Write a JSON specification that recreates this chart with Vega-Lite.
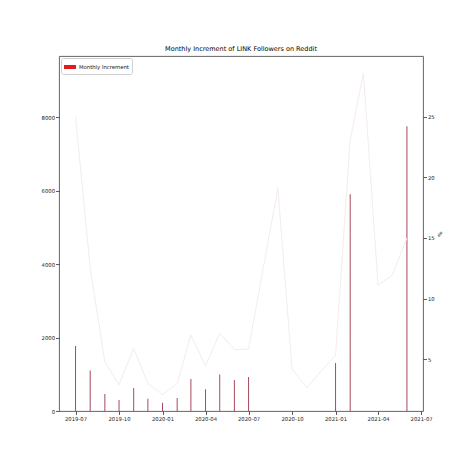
{
  "$schema": "https://vega.github.io/schema/vega-lite/v6.json",
  "width": 364,
  "height": 355,
  "autosize": {"type": "none"},
  "padding": {"left": 59, "top": 56, "right": 47, "bottom": 59},
  "background": "white",
  "config": {
    "font": "DejaVu Sans",
    "view": {"stroke": "#555", "strokeWidth": 0.9},
    "axis": {
      "grid": false,
      "domain": false,
      "tickColor": "#333",
      "tickSize": 3.5,
      "tickWidth": 0.8,
      "labelFontSize": 5.3,
      "labelColor": "#222",
      "labelFont": "DejaVu Sans"
    }
  },
  "title": {
    "text": "Monthly Increment of LINK Followers on Reddit",
    "fontSize": 6.5,
    "fontWeight": "normal",
    "font": "DejaVu Sans",
    "color": "#000",
    "offset": 4
  },
  "data": {
    "values": [
      {"date": "2019-07-01", "inc": 1770, "pct": 25.0},
      {"date": "2019-08-01", "inc": 1100, "pct": 12.5},
      {"date": "2019-09-01", "inc": 460, "pct": 4.8},
      {"date": "2019-10-01", "inc": 300, "pct": 2.9},
      {"date": "2019-11-01", "inc": 625, "pct": 5.9},
      {"date": "2019-12-01", "inc": 335, "pct": 3.0},
      {"date": "2020-01-01", "inc": 225, "pct": 2.1},
      {"date": "2020-02-01", "inc": 355, "pct": 3.0},
      {"date": "2020-03-01", "inc": 870, "pct": 7.0},
      {"date": "2020-04-01", "inc": 590, "pct": 4.45},
      {"date": "2020-05-01", "inc": 990, "pct": 7.15},
      {"date": "2020-06-01", "inc": 845, "pct": 5.8},
      {"date": "2020-07-01", "inc": 925, "pct": 5.85},
      {"date": "2020-08-01", "inc": null, "pct": 12.5},
      {"date": "2020-09-01", "inc": null, "pct": 19.1},
      {"date": "2020-10-01", "inc": null, "pct": 4.2},
      {"date": "2020-11-01", "inc": null, "pct": 2.65},
      {"date": "2020-12-01", "inc": null, "pct": 4.0},
      {"date": "2021-01-01", "inc": 1305, "pct": 5.35},
      {"date": "2021-02-01", "inc": 5900, "pct": 23.1},
      {"date": "2021-03-01", "inc": null, "pct": 28.6},
      {"date": "2021-04-01", "inc": null, "pct": 11.1},
      {"date": "2021-05-01", "inc": null, "pct": 11.95},
      {"date": "2021-06-01", "inc": 7750, "pct": 15.0}
    ]
  },
  "layer": [
    {
      "transform": [{"filter": "datum.inc != null"}],
      "mark": {"type": "bar", "width": 1, "color": "#a84a5c"},
      "encoding": {
        "x": {
          "field": "date",
          "type": "temporal",
          "scale": {
            "type": "utc",
            "nice": false,
            "padding": 0,
            "domain": [
              {"year": 2019, "month": 5, "date": 27, "utc": true},
              {"year": 2021, "month": 7, "date": 5, "utc": true}
            ]
          },
          "axis": {
            "title": null,
            "format": "%Y-%m",
            "labelPadding": 1.5,
            "values": [
              {"year": 2019, "month": 7, "date": 1, "utc": true},
              {"year": 2019, "month": 10, "date": 1, "utc": true},
              {"year": 2020, "month": 1, "date": 1, "utc": true},
              {"year": 2020, "month": 4, "date": 1, "utc": true},
              {"year": 2020, "month": 7, "date": 1, "utc": true},
              {"year": 2020, "month": 10, "date": 1, "utc": true},
              {"year": 2021, "month": 1, "date": 1, "utc": true},
              {"year": 2021, "month": 4, "date": 1, "utc": true},
              {"year": 2021, "month": 7, "date": 1, "utc": true}
            ]
          }
        },
        "y": {
          "field": "inc",
          "type": "quantitative",
          "scale": {"domain": [0, 9660], "nice": false},
          "axis": {
            "title": null,
            "orient": "left",
            "format": "d",
            "values": [0, 2000, 4000, 6000, 8000],
            "labelPadding": 1
          }
        }
      }
    },
    {
      "transform": [{"filter": "false"}],
      "mark": {"type": "bar"},
      "encoding": {
        "color": {
          "datum": "Monthly Increment",
          "type": "nominal",
          "scale": {"range": ["#e3191c"]},
          "legend": {
            "title": null,
            "orient": "top-left",
            "offset": 2,
            "padding": 3,
            "fillColor": "white",
            "strokeColor": "#d0d0d0",
            "cornerRadius": 2,
            "symbolType": "M-1,-0.33H1V0.33H-1Z",
            "symbolSize": 144,
            "symbolStrokeWidth": 0,
            "labelFontSize": 5.3,
            "labelFont": "DejaVu Sans",
            "labelColor": "#111",
            "labelOffset": 3
          }
        }
      }
    },
    {
      "mark": {"type": "line", "color": "#f4ecea", "strokeWidth": 1},
      "encoding": {
        "x": {"field": "date", "type": "temporal"},
        "y": {
          "field": "pct",
          "type": "quantitative",
          "scale": {"domain": [0.74, 30.0], "nice": false, "zero": false},
          "axis": {
            "title": "%",
            "orient": "right",
            "values": [5, 10, 15, 20, 25],
            "labelPadding": 1,
            "titleFontSize": 5.5,
            "titleFontWeight": "normal",
            "titleColor": "#222",
            "titlePadding": 2
          }
        }
      }
    }
  ],
  "resolve": {"scale": {"y": "independent"}}
}
